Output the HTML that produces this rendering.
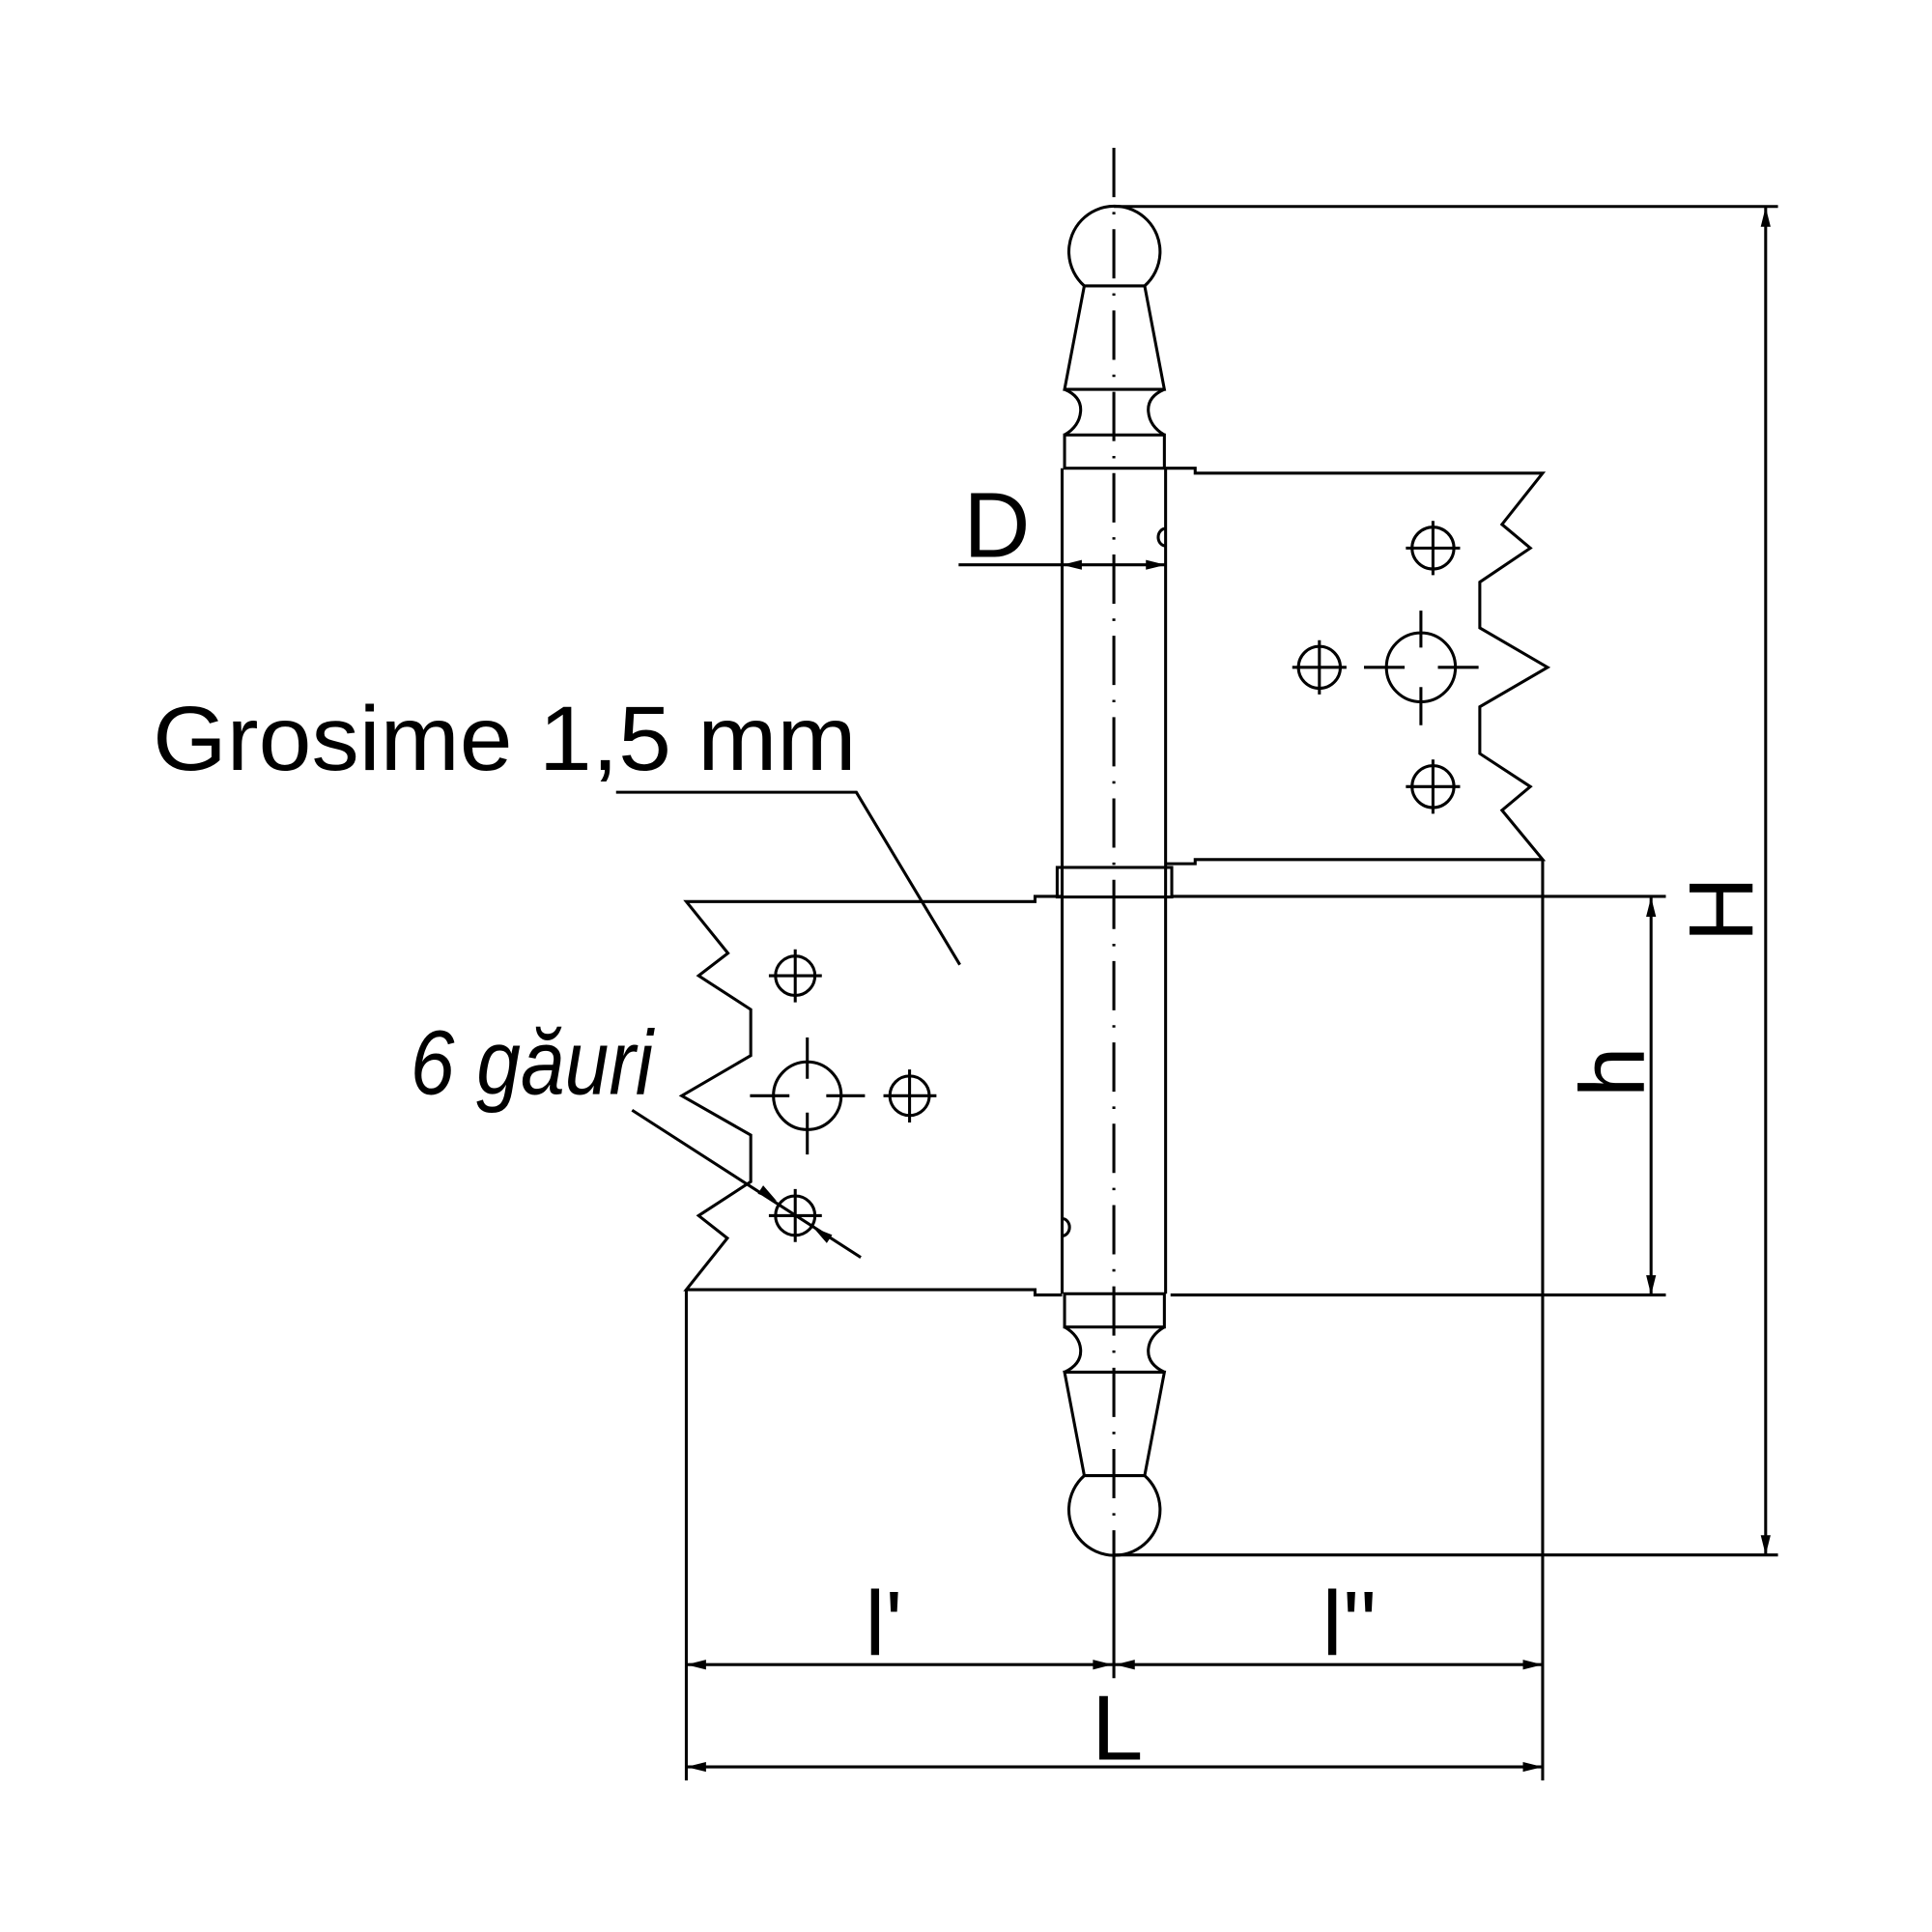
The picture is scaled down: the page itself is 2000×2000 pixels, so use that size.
<!DOCTYPE html>
<html><head><meta charset="utf-8"><style>html,body{margin:0;padding:0;background:#fff}svg{display:block}</style></head>
<body>
<svg xmlns="http://www.w3.org/2000/svg" width="2000" height="2000" viewBox="0 0 1568 1568">
<rect width="1568" height="1568" fill="#fff"/>
<g fill="none" stroke="#000" stroke-width="2.4" stroke-linejoin="miter">
<path d="M880,232 A37,37 0 1 1 929,232 Z"/>
<path d="M880,232 L864,316 L945,316 L929,232"/>
<path d="M864,316 Q878,322 877,334 Q876,346 864,353 M945,316 Q931,322 932,334 Q933,346 945,353"/>
<rect x="864" y="353" width="81" height="27"/>
<path d="M880,1197.6 A37,37 0 1 0 929,1197.6 Z"/>
<path d="M880,1197.6 L864,1113.6 L945,1113.6 L929,1197.6"/>
<path d="M864,1113.6 Q878,1107 877,1095 Q876,1084 864,1077 M945,1113.6 Q931,1107 932,1095 Q933,1084 945,1077"/>
<rect x="864" y="1050" width="81" height="27"/>
<line x1="862" y1="380" x2="862" y2="1050"/>
<line x1="946" y1="380" x2="946" y2="1050"/>
<rect x="858" y="704" width="93" height="24"/>
<path d="M946,380 L970,380 L970,384 L1252,384 L1219,425.6 L1242,444.8 L1201,472.4 L1201,509.6 L1256,541.6 L1201,573.6 L1201,611.6 L1242,638.4 L1219,657.6 L1252,697.6 L970,697.6 L970,701 L946,701"/>
<line x1="1252" y1="697.6" x2="1252" y2="1445"/>
<line x1="951" y1="727.5" x2="1352" y2="727.5"/>
<line x1="950" y1="1051" x2="1352" y2="1051"/>
<path d="M862,727.5 L840,727.5 L840,731.7 L557,731.7 L590.8,773.6 L567,791.9 L609.3,819.3 L609.3,856.7 L553.3,889.3 L609.3,921.2 L609.3,959.1 L567,986.6 L590.3,1004.9 L557,1046.7 L840,1046.7 L840,1051 L862,1051"/>
<line x1="557" y1="1046.7" x2="557" y2="1445"/>
<path d="M946,429 A6,7 0 0 0 946,443"/>
<path d="M862,989 A6,7 0 0 1 862,1003"/>
<circle cx="1163" cy="444.8" r="17"/><path d="M1141,444.8h44M1163,422.8v44"/>
<circle cx="1070.8" cy="541.6" r="17"/><path d="M1048.8,541.6h44M1070.8,519.6v44"/>
<circle cx="1163" cy="638.4" r="17"/><path d="M1141,638.4h44M1163,616.4v44"/>
<circle cx="1153.2" cy="541.6" r="28"/><path d="M1107,541.6h33M1167,541.6h33M1153.2,495.6v30M1153.2,557.6v31"/>
<circle cx="645.4" cy="791.9" r="16"/><path d="M624,791.9h43M645.4,770.5v43"/>
<circle cx="738.2" cy="889.3" r="16"/><path d="M717,889.3h43M738.2,868v43"/>
<circle cx="645.4" cy="986.6" r="16"/><path d="M624,986.6h43M645.4,965v43"/>
<circle cx="655.2" cy="889.3" r="27.5"/><path d="M608.7,889.3h32M670.6,889.3h31.4M655.2,842v33.5M655.2,903v34"/>
<line x1="904" y1="167.6" x2="1443" y2="167.6"/>
<line x1="904" y1="1262" x2="1443" y2="1262"/>
<line x1="1433" y1="168" x2="1433" y2="1262"/>
<line x1="1340" y1="728" x2="1340" y2="1051"/>
<line x1="557" y1="1351" x2="1252" y2="1351"/>
<line x1="557" y1="1434" x2="1252" y2="1434"/>
<line x1="904" y1="1262" x2="904" y2="1362"/>
<line x1="778" y1="458.4" x2="946" y2="458.4"/>
<path d="M500,643 L695,643 L779,783"/>
<line x1="513" y1="901" x2="698.6" y2="1020.5"/>
</g>
<line x1="904" y1="120" x2="904" y2="1262" stroke="#000" stroke-width="2.4" stroke-dasharray="40 12 2 12"/>
<g fill="#000">
<path d="M1433,168 l-4,16 l8,0 Z"/>
<path d="M1433,1262 l-4,-16 l8,0 Z"/>
<path d="M1340,728 l-4,16 l8,0 Z"/>
<path d="M1340,1051 l-4,-16 l8,0 Z"/>
<path d="M557,1351 l16,-4 l0,8 Z"/>
<path d="M903,1351 l-16,-4 l0,8 Z"/>
<path d="M905,1351 l16,-4 l0,8 Z"/>
<path d="M1252,1351 l-16,-4 l0,8 Z"/>
<path d="M557,1434 l16,-4 l0,8 Z"/>
<path d="M1252,1434 l-16,-4 l0,8 Z"/>
<path d="M862,458.4 l16,-4 l0,8 Z"/>
<path d="M946,458.4 l-16,-4 l0,8 Z"/>
<path d="M630.4,974.8 l-15.4,-6 l4.4,-6.7 Z"/>
<path d="M660,996.2 l15.4,6 l-4.4,6.7 Z"/>
</g>
<g font-family="'Liberation Sans', Arial, sans-serif" fill="#000">
<text x="124" y="625" font-size="74" textLength="571" lengthAdjust="spacingAndGlyphs">Grosime 1,5 mm</text>
<text x="333" y="888" font-size="74" font-style="italic" textLength="197" lengthAdjust="spacingAndGlyphs">6 găuri</text>
<text x="782" y="452" font-size="75">D</text>
<text x="702" y="1343" font-size="74">l'</text>
<text x="1073" y="1343" font-size="74">l''</text>
<text x="886" y="1428" font-size="75">L</text>
<text transform="translate(1422,738) rotate(-90)" font-size="74" text-anchor="middle">H</text>
<text transform="translate(1334,870) rotate(-90)" font-size="74" text-anchor="middle">h</text>
</g>
</svg>
</body></html>
